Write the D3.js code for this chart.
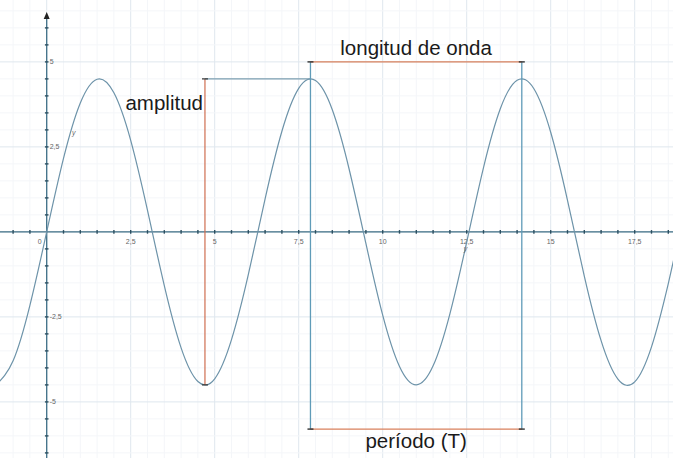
<!DOCTYPE html>
<html>
<head>
<meta charset="utf-8">
<script src="https://cdn.jsdelivr.net/npm/d3@7"></script>
<style>
  html, body { margin: 0; padding: 0; background: #fff; }
  svg { display: block; }
  .lbl { font-family: "Liberation Sans", Arial, Helvetica, sans-serif; fill: #1a1a1a; }
  .tick-lbl { font-family: "Liberation Sans", Arial, sans-serif; font-size: 7px; fill: #666; }
</style>
</head>
<body>
<script>
// Wave samples (x, y) along the curve
const waveX = [-1.5, -1.0, -0.5, 0, 0.5, 1.0, 1.5, 2.0, 2.5, 3.0, 3.5, 4.0, 4.5, 5.0, 5.5, 6.0, 6.5, 7.0, 7.5, 8.0,
               8.5, 9.0, 9.5, 10.0, 10.5, 11.0, 11.5, 12.0, 12.5, 13.0, 13.5, 14.0, 14.5, 15.0, 15.5, 16.0, 16.5, 17.0,
               17.5, 18.0, 18.5, 19.0];
const waveY = [-4.49, -3.79, -2.16, 0, 2.16, 3.79, 4.49, 4.09, 2.69, 0.63, -1.58, -3.41, -4.40, -4.32, -3.17, -1.26,
               0.97, 2.96, 4.22, 4.45, 3.59, 1.85, -0.34, -2.45, -3.96, -4.50, -3.94, -2.41, -0.30, 1.89, 3.62, 4.46,
               4.21, 2.93, 0.93, -1.30, -3.20, -4.33, -4.41, -3.38, -1.52, 0.67];

// Axis ticks and their labels
const xTicks = [0, 2.5, 5, 7.5, 10, 12.5, 15, 17.5];
const xTickLabels = ["0", "2,5", "5", "7,5", "10", "12,5", "15", "17,5"];
const yTicks = [5, 2.5, -2.5, -5];
const yTickLabels = ["5", "2,5", "-2,5", "-5"];

// Key points used by the annotations
const amplitude = 4.5;
const troughX = 4.71;         // first trough
const crestX = [7.85, 14.14]; // two consecutive crests
const wavelengthY = 5;
const periodY = -5.8;

const W = 673, H = 458;
const x = d3.scaleLinear().domain([-1.39, 18.64]).range([0, W]);
const y = d3.scaleLinear().domain([6.82, -6.65]).range([0, H]);

const svg = d3.select("body").append("svg").attr("width", W).attr("height", H);

// grid: fine every 0.5, stronger every 2.5
const minorX = d3.range(-1, 19, 0.5);
const minorY = d3.range(-6.5, 7, 0.5);
const isMajor = d => Math.abs(d % 2.5) < 1e-6;
const grid = svg.append("g");
grid.selectAll(".gx").data(minorX).join("line")
  .attr("x1", d => x(d)).attr("x2", d => x(d)).attr("y1", 0).attr("y2", H)
  .attr("stroke", d => isMajor(d) ? "#dfe7ee" : "#f4f6f9").attr("stroke-width", 1);
grid.selectAll(".gy").data(minorY).join("line")
  .attr("y1", d => y(d)).attr("y2", d => y(d)).attr("x1", 0).attr("x2", W)
  .attr("stroke", d => isMajor(d) ? "#dfe7ee" : "#f4f6f9").attr("stroke-width", 1);

// axes
const axisColor = "#3f6f86";
svg.append("line").attr("x1", 0).attr("x2", W).attr("y1", y(0)).attr("y2", y(0))
  .attr("stroke", axisColor).attr("stroke-width", 1.3);
svg.append("line").attr("x1", x(0)).attr("x2", x(0)).attr("y1", 16).attr("y2", H)
  .attr("stroke", axisColor).attr("stroke-width", 1.3);
svg.append("path")
  .attr("d", `M${x(0)},12 L${x(0) - 3},19 L${x(0) + 3},19 Z`)
  .attr("fill", "#222");

// small tick marks along both axes
svg.selectAll(".tx").data(minorX.filter(d => d !== 0)).join("line")
  .attr("x1", d => x(d)).attr("x2", d => x(d)).attr("y1", y(0) - 1.8).attr("y2", y(0) + 1.8)
  .attr("stroke", "#2c4f60").attr("stroke-width", 1.4);
svg.selectAll(".ty").data(d3.range(-7.5, 7, 0.5).filter(d => d !== 0 && d < 6.5)).join("line")
  .attr("y1", d => y(d)).attr("y2", d => y(d)).attr("x1", x(0) - 1.8).attr("x2", x(0) + 1.8)
  .attr("stroke", "#2c4f60").attr("stroke-width", 1.4);

// tick labels
svg.selectAll(".xl").data(xTicks).join("text").attr("class", "tick-lbl")
  .attr("x", d => d === 0 ? x(d) - 7 : x(d)).attr("y", y(0) + 12)
  .attr("text-anchor", "middle").text((d, i) => xTickLabels[i]);
svg.selectAll(".yl").data(yTicks).join("text").attr("class", "tick-lbl")
  .attr("x", x(0) + 3).attr("y", d => y(d) + 2.5)
  .text((d, i) => yTickLabels[i]);

// the wave
const line = d3.line().x(d => x(d[0])).y(d => y(d[1])).curve(d3.curveNatural);
svg.append("path").datum(waveX.map((v, i) => [v, waveY[i]]))
  .attr("d", line).attr("fill", "none").attr("stroke", "#6d93a9").attr("stroke-width", 1.2);

// curve name labels
svg.append("text").attr("class", "tick-lbl").attr("x", x(0.75)).attr("y", y(2.85))
  .style("font-style", "italic").text("y");
svg.append("text").attr("class", "tick-lbl").attr("x", x(12.5) - 3).attr("y", y(-0.55))
  .style("font-style", "italic").text("y");

// annotations
const orange = "#d9805c", blue = "#5f9bb8";
const ann = svg.append("g");
// amplitude
ann.append("line").attr("x1", x(troughX)).attr("x2", x(troughX)).attr("y1", y(amplitude)).attr("y2", y(-amplitude))
  .attr("stroke", "#cf6e50").attr("stroke-width", 1.2);
ann.append("line").attr("x1", x(troughX)).attr("x2", x(crestX[0])).attr("y1", y(amplitude)).attr("y2", y(amplitude))
  .attr("stroke", "#7a9caf").attr("stroke-width", 1.2);
// crest verticals
crestX.forEach(c => {
  ann.append("line").attr("x1", x(c)).attr("x2", x(c)).attr("y1", y(wavelengthY)).attr("y2", y(periodY))
    .attr("stroke", blue).attr("stroke-width", 1.3);
});
// wavelength and period bars
[wavelengthY, periodY].forEach(v => {
  ann.append("line").attr("x1", x(crestX[0])).attr("x2", x(crestX[1])).attr("y1", y(v)).attr("y2", y(v))
    .attr("stroke", orange).attr("stroke-width", 1.3);
  crestX.forEach(c => {
    ann.append("line").attr("x1", x(c) - 3).attr("x2", x(c) + 3).attr("y1", y(v)).attr("y2", y(v))
      .attr("stroke", "#333").attr("stroke-width", 1.4);
  });
});
// end marks on the amplitude bar
[[troughX, amplitude], [troughX, -amplitude]].forEach(p => {
  ann.append("line").attr("x1", x(p[0]) - 3).attr("x2", x(p[0]) + 3).attr("y1", y(p[1])).attr("y2", y(p[1]))
    .attr("stroke", "#333").attr("stroke-width", 1.2);
});

// text labels
const mid = (crestX[0] + crestX[1]) / 2;
svg.append("text").attr("class", "lbl").attr("x", x(mid)).attr("y", 55)
  .attr("text-anchor", "middle").attr("font-size", 20.5).text("longitud de onda");
svg.append("text").attr("class", "lbl").attr("x", x(mid)).attr("y", 448)
  .attr("text-anchor", "middle").attr("font-size", 20.5).text("período (T)");
svg.append("text").attr("class", "lbl").attr("x", x(troughX) - 2).attr("y", 110)
  .attr("text-anchor", "end").attr("font-size", 20.5).text("amplitud");
</script>
</body>
</html>
